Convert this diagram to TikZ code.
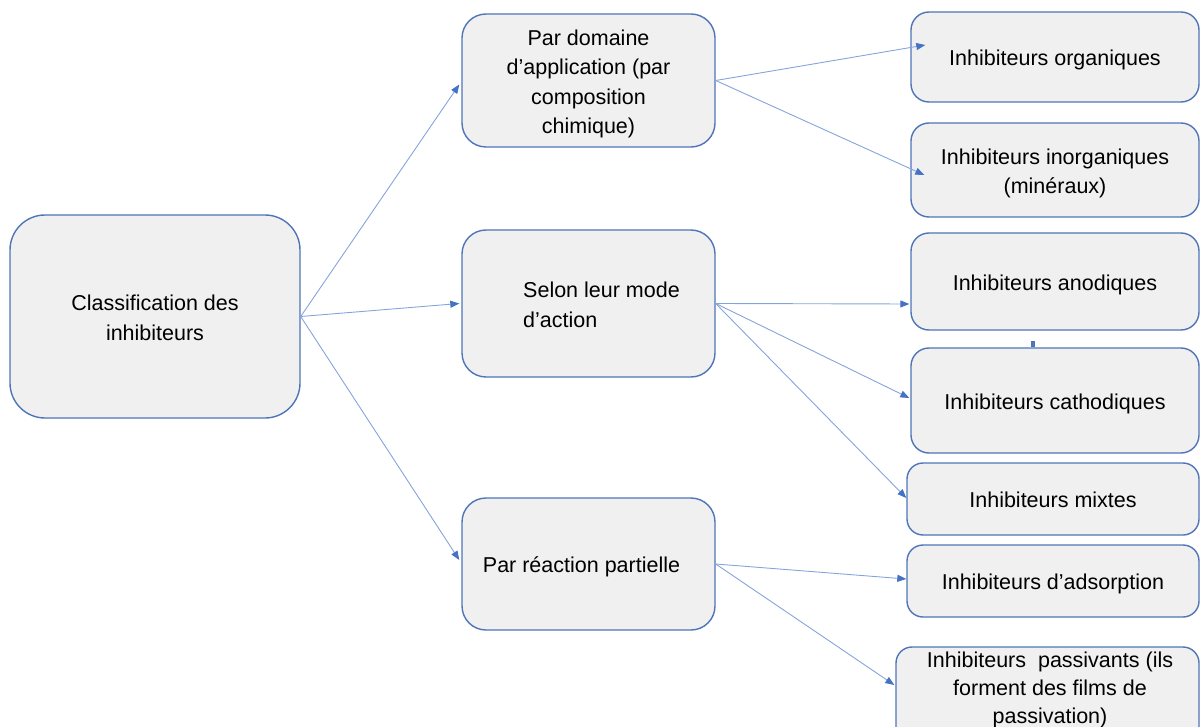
\documentclass[tikz,border=0pt]{standalone}
\usepackage{fontspec}
\setmainfont{Liberation Sans}
\usetikzlibrary{arrows.meta,calc}
\definecolor{boxblue}{HTML}{4F74B8}
\definecolor{boxfill}{HTML}{F0F0F0}
\definecolor{linkblue}{HTML}{86A4DC}
\definecolor{headblue}{HTML}{4472C4}
\newcommand\boxtext[2][c]{\raisebox{-3pt}[\height][\depth]{\begin{tabular}{@{}#1@{}}#2\end{tabular}}}
\begin{document}
\begin{tikzpicture}[x=1pt,y=-1pt,
  box/.style={draw=boxblue, line width=1.4pt, fill=boxfill, inner sep=0pt,
    font=\fontsize{21.5}{29.5}\selectfont, text=black},
  txt/.style={inner sep=0pt, align=center, font=\fontsize{21.5}{28}\selectfont, text=black},
  link/.style={draw=linkblue, line width=0.9pt,
    -{Triangle[length=9pt,width=7pt,color=headblue]}}]
\useasboundingbox (0,0) rectangle (1201,727);
% left and middle boxes
\node[box, minimum width=290, minimum height=203, rounded corners=35] (root) at (155,316.5)
  {\boxtext{Classification des\\inhibiteurs}};
\node[box, minimum width=253, minimum height=133, rounded corners=24] (a) at (588.5,80.5)
  {\boxtext{Par domaine\\d’application (par \\composition\\chimique)}};
\node[box, minimum width=253, minimum height=147, rounded corners=24] (b) at (588.5,303.5)
  {\boxtext[@{\hspace{26pt}}l]{Selon leur mode\\d’action}};
\node[box, minimum width=253, minimum height=132, rounded corners=24] (c) at (588.5,564)
  {\boxtext{Par réaction partielle\rule{14pt}{0pt}}};
% right boxes
\node[box, minimum width=288, minimum height=90, rounded corners=18] (o1) at (1055,57)
  {\boxtext{Inhibiteurs organiques}};
\node[box, minimum width=288, minimum height=94, rounded corners=18] (o2) at (1055,170)
  {\boxtext{Inhibiteurs inorganiques\\(minéraux)}};
\node[box, minimum width=288, minimum height=97, rounded corners=18] (o3) at (1055,281.5)
  {\boxtext{Inhibiteurs anodiques}};
\node[box, minimum width=288, minimum height=105, rounded corners=18] (o4) at (1055,400.5)
  {\boxtext{Inhibiteurs cathodiques}};
\node[box, minimum width=292, minimum height=72, rounded corners=16] (o5) at (1053,499)
  {\boxtext{Inhibiteurs mixtes}};
\node[box, minimum width=292, minimum height=72, rounded corners=16] (o6) at (1053,581)
  {\boxtext{Inhibiteurs d’adsorption}};
\node[box, minimum width=303, minimum height=123, rounded corners=16] (o7) at (1047.5,708.5) {};
\node[txt] (o7t) at (1050,690)
  {Inhibiteurs\ \ passivants (ils\\forment des films de\\passivation)};
% stray mark
\fill[boxblue] (1031,341) rectangle (1035,347);
% connectors
\draw[link] (root.east) -- ($(a.west)+(-2,4)$);
\draw[link] (root.east) -- ($(b.west)+(-2,0)$);
\draw[link] (root.east) -- ($(c.west)+(-2,-4)$);
\draw[link] (a.east) -- ($(o1.west)+(15,-12)$);
\draw[link] (a.east) -- ($(o2.west)+(14,5)$);
\draw[link] (b.east) -- ($(o3.west)+(-1,22.5)$);
\draw[link] (b.east) -- ($(o4.west)+(-1,-2.5)$);
\draw[link] (b.east) -- ($(o5.west)+(0,-1)$);
\draw[link] (c.east) -- ($(o6.west)+(0,-2)$);
\draw[link] (c.east) -- ($(o7.west)+(-1,-23.5)$);
\end{tikzpicture}
\end{document}
